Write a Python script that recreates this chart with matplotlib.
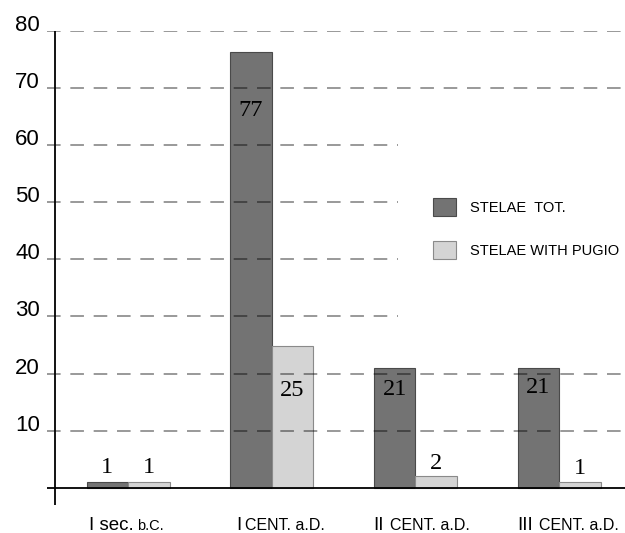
import matplotlib
matplotlib.use("Agg")
import matplotlib.pyplot as plt
from matplotlib.patches import Patch
from matplotlib import transforms

# data
periods_big = ["I sec.", "I", "II", "III"]
periods_small = ["b.C.", "CENT. a.D.", "CENT. a.D.", "CENT. a.D."]
stelae_tot = [1, 76.3, 21, 21]
stelae_tot_labels = ["1", "77", "21", "21"]
stelae_pugio = [1, 24.8, 2, 1]
stelae_pugio_labels = ["1", "25", "2", "1"]
yticks = [10, 20, 30, 40, 50, 60, 70, 80]
short_grid = [30, 40, 50, 60]
series_names = ["STELAE  TOT.", "STELAE WITH PUGIO"]

# layout (pixel offsets -> points)
px = 0.72
tot_label_dy = [15, -59, -22, -20]
pugio_label_dy = [15, -44, 13, 14]
big_dx = [-39, -35, -42, -42]
small_dx = [9, -27, -25, -20]

dark = "#737373"
light = "#d4d4d4"
sans = "Liberation Sans"
serif = "Liberation Serif"

fig = plt.figure(figsize=(6.25, 5.33), dpi=100)
ax = fig.add_axes([47 / 625, 28 / 533, 578 / 625, 474.3 / 533])

x = list(range(len(periods_big)))
w = 0.289
ax.bar([i - w / 2 for i in x], stelae_tot, width=w, color=dark, edgecolor="#4a4a4a", linewidth=0.8, zorder=2)
ax.bar([i + w / 2 for i in x], stelae_pugio, width=w, color=light, edgecolor="#8a8a8a", linewidth=0.8, zorder=2)

ax.set_xlim(-0.564, 3.459)
ax.set_ylim(-3, 80)

# dashed grid drawn on top of the bars
for t in yticks:
    right = 1.88 if t in short_grid else 3.459
    ax.hlines(t, -0.564, right, colors="black", alpha=0.4, linewidth=1.4,
              linestyles=(0, (7, 5)), zorder=3)

# axis lines
ax.axhline(0, color="black", linewidth=1.3, zorder=4)
ax.axvline(-0.508, color="black", linewidth=1.3, zorder=4)
for s in ax.spines.values():
    s.set_visible(False)

ax.set_yticks(yticks)
ax.set_yticklabels([str(t) for t in yticks], fontsize=16, family=sans)
for lab in ax.get_yticklabels():
    lab.set_va("baseline")
ax.tick_params(axis="y", length=0, pad=5)
ax.set_xticks([])

for i in x:
    ax.annotate(stelae_tot_labels[i], xy=(i - w / 2, stelae_tot[i]),
                xytext=(0, tot_label_dy[i] * px), textcoords="offset points",
                ha="center", va="center", fontsize=17.5, family=serif, zorder=5)
    ax.annotate(stelae_pugio_labels[i], xy=(i + w / 2, stelae_pugio[i]),
                xytext=(0, pugio_label_dy[i] * px), textcoords="offset points",
                ha="center", va="center", fontsize=17.5, family=serif, zorder=5)

# category labels with mixed sizes
trans = transforms.blended_transform_factory(ax.transData, fig.transFigure)
for i in x:
    small_size = 10.5 if i == 0 else 11.5
    ax.annotate(periods_big[i], xy=(i, 3.5 / 533), xycoords=trans,
                xytext=(big_dx[i] * px, 0), textcoords="offset points",
                ha="left", va="baseline", fontsize=13.5, family=sans, annotation_clip=False)
    ax.annotate(periods_small[i], xy=(i, 3.5 / 533), xycoords=trans,
                xytext=(small_dx[i] * px, 0), textcoords="offset points",
                ha="left", va="baseline", fontsize=small_size, family=sans, annotation_clip=False)

fs = 10.5
fpx = fs / px
handles = [Patch(facecolor=dark, edgecolor="#4a4a4a", linewidth=0.8),
           Patch(facecolor=light, edgecolor="#8a8a8a", linewidth=0.8)]
fig.legend(handles, series_names, loc="upper left",
           bbox_to_anchor=(433 / 625, (533 - 198) / 533), frameon=False,
           prop={"family": sans, "size": fs}, borderpad=0, borderaxespad=0,
           handlelength=23 / fpx, handleheight=22 / fpx, handletextpad=14 / fpx,
           labelspacing=25 / fpx)

plt.savefig("out.png", dpi=100)
